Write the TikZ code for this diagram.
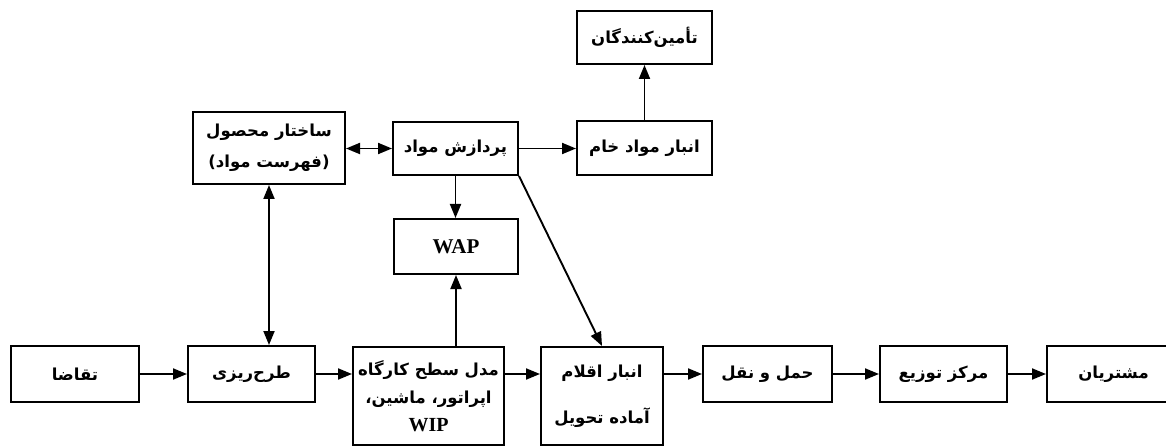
\documentclass[tikz,border=0pt]{standalone}
\usepackage{fontspec}
\setmainfont{Liberation Serif}
\newfontfamily\arabicfont[Script=Arabic]{DejaVu Sans}
\TeXXeTstate=1
\usetikzlibrary{arrows.meta}
\newcommand{\fa}[1]{{\arabicfont\bfseries\beginR #1\endR}}
\tikzset{
  box/.style={draw, line width=2pt, inner sep=0pt, align=center, fill=white},
  fnt/.style={font=\fontsize{16.5}{#1}\selectfont},
  arr/.style={line width=1.9pt, -{Triangle[length=14pt,width=11pt]}},
  darr/.style={line width=1.9pt, {Triangle[length=14pt,width=11pt]}-{Triangle[length=14pt,width=11pt]}}
}
\begin{document}
\begin{tikzpicture}[x=1pt,y=-1pt]
\useasboundingbox (0,0) rectangle (1166,446);
% bottom row
\node[box,fnt=20,minimum width=128,minimum height=56] (demand) at (75,374) {\fa{تقاضا}};
\node[box,fnt=20,minimum width=127,minimum height=56] (plan) at (251.5,374) {\fa{طرح‌ریزی}};
\node[box,fnt=28,minimum width=151,minimum height=98] (shop) at (428.5,396) {\fa{مدل سطح کارگاه}\\\fa{اپراتور، ماشین،}\\{\fontsize{20}{20}\selectfont\bfseries WIP}};
\node[box,fnt=46,minimum width=122,minimum height=98] (ready) at (602,396) {\fa{انبار اقلام}\\\fa{آماده تحویل}};
\node[box,fnt=20,minimum width=129,minimum height=56] (trans) at (767.5,374) {\fa{حمل و نقل}};
\node[box,fnt=20,minimum width=127,minimum height=56] (dist) at (943.5,374) {\fa{مرکز توزیع}};
\node[box,fnt=20,minimum width=133,minimum height=56,text width=110] (cust) at (1113.5,374) {\fa{مشتریان}};
% upper part
\node[box,fnt=31,minimum width=152,minimum height=72] (bom) at (269,148) {\fa{ساختار محصول}\\\fa{(فهرست مواد)}};
\node[box,fnt=20,minimum width=125,minimum height=53] (proc) at (455.5,148.5) {\fa{پردازش مواد}};
\node[box,fnt=20,minimum width=135,minimum height=54] (raw) at (644.5,148) {\fa{انبار مواد خام}};
\node[box,fnt=20,minimum width=135,minimum height=53] (supp) at (644.5,37.5) {\fa{تأمین‌کنندگان}};
\node[box,minimum width=124,minimum height=55,font=\fontsize{21}{21}\selectfont\bfseries] (wap) at (456,246.5) {WAP};
% connectors
\draw[arr] (demand) -- (plan);
\draw[arr] (plan) -- (plan -| shop.west);
\draw[arr] (shop.east |- plan) -- (ready.west |- plan);
\draw[arr] (ready.east |- trans) -- (trans);
\draw[arr] (trans) -- (dist);
\draw[arr] (dist) -- (cust.west);
\draw[darr] (plan.north -| bom.south) -- (bom.south);
\draw[darr] (bom.east |- proc) -- (proc.west);
\draw[arr] (proc.east) -- (raw.west |- proc.east);
\draw[arr] (raw) -- (supp);
\draw[arr] (proc.south) -- (proc.south |- wap.north);
\draw[arr] (shop.north -| wap.south) -- (wap.south);
\draw[arr] (proc.south east) -- (ready.north);
\end{tikzpicture}
\end{document}
